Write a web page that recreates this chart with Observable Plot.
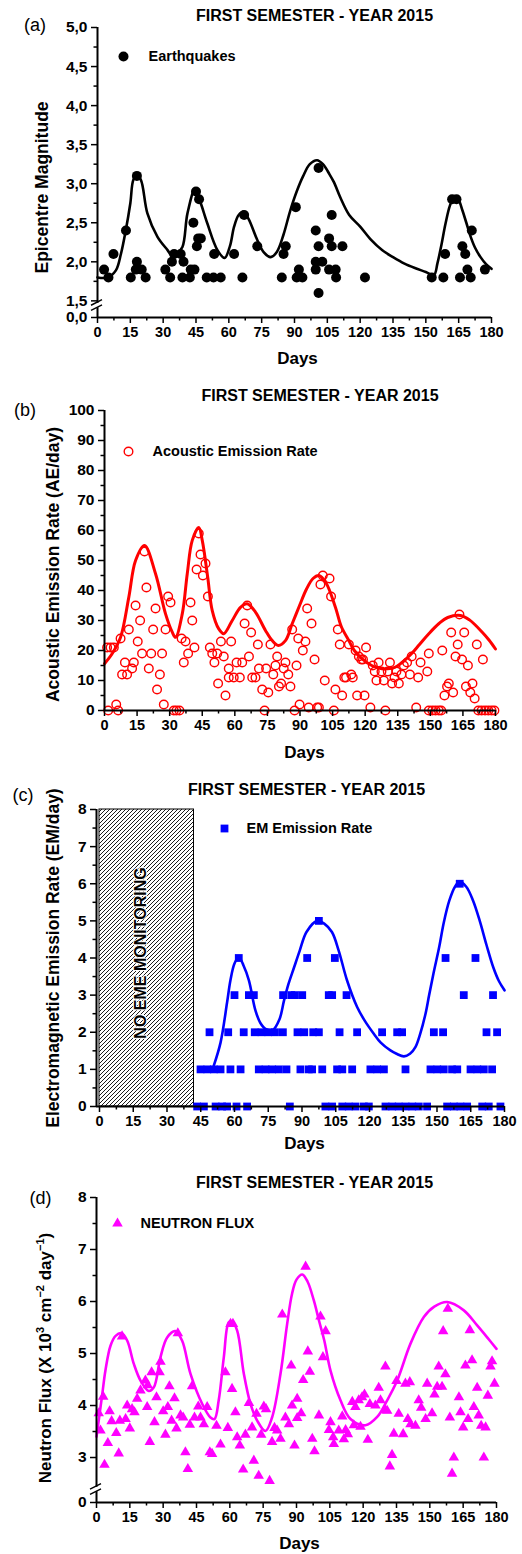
<!DOCTYPE html>
<html>
<head>
<meta charset="utf-8">
<script src="https://cdn.jsdelivr.net/npm/d3@7"></script>
<script src="https://cdn.jsdelivr.net/npm/@observablehq/plot@0.6"></script>
<style>
  body { margin: 0; background: #fff; }
  #chart { position: relative; width: 522px; height: 1554px; overflow: hidden; }
  #chart svg { position: absolute; left: 0; overflow: visible; }
</style>
</head>
<body>
<div id="chart"></div>
<script>
// ---------- shared ----------
const TITLE = "FIRST SEMESTER - YEAR 2015";
const dayTicks = [0, 15, 30, 45, 60, 75, 90, 105, 120, 135, 150, 165, 180];
const dayMinorTicks = [7.5, 22.5, 37.5, 52.5, 67.5, 82.5, 97.5, 112.5, 127.5, 142.5, 157.5, 172.5];

// ---------- (a) earthquakes ----------
const quakeDay = [3, 5, 7.3, 13, 15.2, 17.5, 18, 18, 20.2, 22, 31, 33.2, 34, 35, 38, 38.8, 39.3, 42.2, 42.6, 43.8,
  44.3, 45, 45.4, 46, 46.4, 47.2, 49.9, 53, 53.3, 56.3, 62.4, 66.2, 67, 73, 84.2, 85, 86, 90.6, 91, 92,
  93.6, 99.7, 99.7, 99.7, 101, 101, 101, 102.7, 105.8, 105.8, 107, 107, 108.8, 109, 111.9, 122.2, 152.7, 158, 158.8, 162,
  164, 165.6, 166.7, 168, 169, 170.5, 171, 177];
const quakeMag = [1.9, 1.8, 2.1, 2.4, 1.8, 1.9, 3.1, 2.0, 1.9, 1.8, 1.9, 1.8, 2.0, 2.1, 2.1, 1.8, 2.0, 1.8, 1.9, 2.5,
  1.9, 2.9, 2.2, 2.3, 2.8, 2.3, 1.8, 1.8, 2.1, 1.8, 2.1, 1.8, 2.6, 2.2, 1.8, 2.1, 2.2, 2.7, 1.8, 1.9,
  1.8, 2.4, 2.0, 1.9, 3.2, 2.2, 1.6, 2.0, 2.3, 1.9, 2.6, 2.2, 1.9, 1.8, 2.2, 1.8, 1.8, 1.8, 2.1, 2.8,
  2.8, 1.8, 2.2, 2.1, 1.9, 1.8, 2.4, 1.9];
const quakeTrendDay = [0, 4.6, 8.4, 10.7, 12.9, 15, 16.4, 18, 19.8, 22.8, 27.4, 32, 34, 36, 38.8, 41.1, 44.7, 47.2, 50.2, 54.8,
  58.1, 60.5, 62.4, 64.5, 66.7, 69, 73, 76, 79.1, 82, 85, 88, 91, 94, 97, 100.3, 103, 106, 108, 111,
  115, 120, 125, 130, 135, 140, 145, 150, 153.7, 155.3, 157, 159, 161, 162.9, 164.8, 166.7, 168.5, 170.5, 172.5, 175,
  177.5, 180];
const quakeTrendMag = [1.8, 1.8, 1.89, 2.1, 2.4, 2.75, 3.05, 3.1, 3.05, 2.62, 2.32, 2.15, 2.08, 2.1, 2.19, 2.62, 2.94, 2.75, 2.49, 2.15,
  2.05, 2.2, 2.45, 2.6, 2.64, 2.55, 2.28, 2.12, 2.06, 2.13, 2.35, 2.65, 2.9, 3.1, 3.25, 3.3, 3.25, 3.12, 3.02, 2.82,
  2.6, 2.45, 2.28, 2.15, 2.06, 1.98, 1.92, 1.87, 1.83, 1.98, 2.2, 2.49, 2.72, 2.83, 2.8, 2.66, 2.5, 2.32, 2.18, 2.06,
  1.97, 1.91];
// the magnitude axis is interrupted: its foot (labelled 0,0) sits just below 1,5
const magAxisFloor = 1.287;
const magTicks = [magAxisFloor, 1.5, 2, 2.5, 3, 3.5, 4, 4.5, 5];
const magMinorTicks = [1.75, 2.25, 2.75, 3.25, 3.75, 4.25, 4.75];
const magBreak = 1.44;

// ---------- (b) acoustic emission ----------
const aeDay = [1.2, 1.7, 2.8, 4.3, 5.4, 6.3, 7.4, 8.1, 9.4, 10.4, 11.2, 12.7, 13.5, 14.3, 15.3, 16.4, 17.3, 18.4, 19.3, 20.4,
  21.5, 22.4, 23.5, 24.2, 25.5, 26.5, 27.3, 28.1, 29.3, 30.4, 31.9, 33.1, 34.5, 35.5, 36.5, 37.3, 38.5, 39.6, 40.4, 41.4,
  42.4, 43.4, 44.2, 45.3, 46.5, 47.6, 48.5, 49.6, 50.6, 51.9, 52.3, 53.6, 54.9, 55.7, 57.2, 57.2, 58.3, 59.5, 60.8, 62.3,
  63.4, 64.5, 65.7, 66.5, 67.5, 68, 69.5, 70.6, 71.1, 72.6, 73.7, 74.4, 75.4, 76.4, 77.7, 78.7, 79.5, 80.3, 81.3, 82.5,
  83.3, 84.6, 85.6, 86.4, 87.5, 88.4, 89.2, 89.8, 91.3, 92.5, 93.3, 94, 95.3, 96.7, 97.9, 98.7, 99.4, 100.5, 101.4, 103.6,
  104.3, 105.6, 106.3, 107.4, 108.3, 109.4, 110.4, 111.2, 112.5, 113.6, 114.3, 115.6, 116.3, 117.1, 118.2, 119, 119.7, 120.4, 122.4, 123.5,
  124.4, 125.2, 126.2, 127.5, 128.6, 129.3, 130.4, 131.4, 132.4, 133.5, 134.4, 135.5, 136.7, 137.8, 139.3, 140.6, 141.4, 143.5, 144.4, 145.5,
  148.6, 149.3, 149.3, 150.9, 152.4, 153.9, 155, 155.5, 156.5, 157.7, 158.5, 159.6, 160.5, 161.6, 162.6, 163.4, 164.6, 165.6, 166.4, 167.3,
  168.4, 169.4, 170.4, 171.4, 172.1, 173.6, 174.2, 175.2, 176.7, 178.2, 179.5];
const aeRate = [21, 0, 21, 21, 2, 0, 24, 12, 16, 12, 27, 14, 16, 35, 23, 30, 19, 53, 41, 14,
  19, 27, 34, 7, 12, 19, 2, 27, 38, 36, 0, 0, 0, 24, 16, 23, 19, 36, 30, 21,
  47, 59, 52, 45, 49, 38, 21, 19, 16, 19, 9, 23, 18, 5, 14, 11, 23, 11, 16, 11,
  16, 29, 35, 18, 26, 11, 11, 22, 14, 7, 0, 14, 6, 22, 12, 15, 18, 8, 9, 14,
  16, 12, 8, 27, 0, 15, 24, 2, 20, 23, 34, 1, 29, 17, 1, 1, 42, 45, 10, 44,
  38, 0, 7, 27, 22, 5, 11, 11, 22, 12, 11, 20, 5, 18, 17, 17, 5, 21, 1, 15,
  13, 10, 16, 13, 10, 0, 13, 16, 9, 11, 13, 9, 12, 15, 16, 12, 18, 1, 11, 16,
  13, 19, 0, 0, 0, 0, 0, 20, 5, 8, 9, 26, 6, 18, 22, 32, 17, 26, 8, 15,
  6, 9, 4, 22, 0, 0, 17, 0, 0, 0, 0];
const aeTrendDay = [0, 3.5, 7.4, 11.2, 14.3, 18.4, 23.5, 28.1, 31.2, 32.7, 35.8, 38.1, 40.4, 43.4, 45, 47.5, 49.6, 52.6, 54.9, 58.8,
  62.6, 65.7, 69.5, 74.1, 77.2, 80, 83.3, 86.4, 89.8, 93, 96, 98.7, 102, 106.3, 109, 112.5, 115, 118.6, 123, 127.6,
  133.6, 137, 141.3, 145, 149.3, 154, 158, 163.9, 168, 173.9, 177, 180];
const aeTrendRate = [15.6, 18.9, 24.4, 37.8, 50, 55, 45.6, 32.2, 26.1, 24.4, 32.2, 45.6, 56.7, 61, 56.7, 44.5, 33.3, 27.2, 25.6, 30,
  34.4, 35.6, 32.8, 26.7, 23.3, 21.7, 23.3, 28.9, 35, 40.5, 44, 45, 42.5, 34.4, 28, 23.3, 20, 17.2, 15, 13.9,
  14.4, 16, 18.9, 22, 25.6, 29, 31, 31.7, 30.2, 26.1, 23.5, 20.5];
const aeTicks = [0, 10, 20, 30, 40, 50, 60, 70, 80, 90, 100];
const aeMinorTicks = [5, 15, 25, 35, 45, 55, 65, 75, 85, 95];

// ---------- (c) electromagnetic emission ----------
const emDay = [160.1,
  97.5,
  61.9, 92.3, 104.6, 153.8, 167.1,
  60, 66.4, 68.6, 81.6, 85.2, 86.8, 90.1, 101.9, 103.4, 109.8, 161.9, 174.9,
  48.9, 57.2, 64.1, 69, 72, 75, 78, 81.5, 88, 91, 95, 97.5, 106.7, 114.5, 125.6, 132.3, 134.5, 148.6, 152.7, 172, 176.7,
  44.9, 47.9, 50.8, 53.8, 58.2, 62.7, 70.8, 73.8, 76.7, 79.7, 83.1, 89.3, 93, 94.5, 99, 105.6, 107.9, 112.3, 120.4, 123.4,
  126.4, 136, 147.1, 150.1, 153, 156.7, 159, 164.9, 167.9, 170.8, 174.5,
  43.4, 46.4, 51.6, 54.5, 56.7, 60.9, 65.6, 84.6, 100.4, 103.4, 107.9, 110.8, 113.8, 117.5, 119.7, 127.1, 130.1, 133, 136, 139,
  141.9, 145.6, 154.5, 157.5, 160.4, 163.4, 170.1, 173, 178.2];
const emRate = [6,
  5,
  4, 4, 4, 4, 4,
  3, 3, 3, 3, 3, 3, 3, 3, 3, 3, 3, 3,
  2, 2, 2, 2, 2, 2, 2, 2, 2, 2, 2, 2, 2, 2, 2, 2, 2, 2, 2, 2, 2,
  1, 1, 1, 1, 1, 1, 1, 1, 1, 1, 1, 1, 1, 1, 1, 1, 1, 1, 1, 1,
  1, 1, 1, 1, 1, 1, 1, 1, 1, 1, 1,
  0, 0, 0, 0, 0, 0, 0, 0, 0, 0, 0, 0, 0, 0, 0, 0, 0, 0, 0, 0,
  0, 0, 0, 0, 0, 0, 0, 0, 0];
const emTrendDay = [50.8, 53.8, 56.7, 58.2, 60, 61.9, 64, 66.4, 69.3, 71.5, 74, 77, 80, 82, 84, 86.5, 89, 92, 96.7, 100,
  103.3, 106.3, 110, 114.5, 118, 121.9, 125, 129.3, 132, 135.3, 138, 140.4, 142.5, 144.9, 146.5, 148.5, 151, 153, 155.5, 158,
  160.1, 163, 166, 169, 172, 175, 177.5, 180];
const emTrendRate = [1.1, 1.72, 2.8, 3.4, 3.85, 4.02, 3.8, 3.4, 2.59, 2.25, 2.08, 2.06, 2.35, 2.85, 3.3, 3.75, 4.2, 4.7, 5.0, 4.92,
  4.7, 4.2, 3.4, 2.68, 2.3, 1.96, 1.72, 1.51, 1.42, 1.35, 1.42, 1.6, 1.95, 2.5, 3.0, 3.6, 4.3, 4.95, 5.55, 5.92,
  6.05, 5.92, 5.55, 5.0, 4.35, 3.75, 3.38, 3.13];
const emTicks = [0, 1, 2, 3, 4, 5, 6, 7, 8];
const emMinorTicks = [0.5, 1.5, 2.5, 3.5, 4.5, 5.5, 6.5, 7.5];
const noEmeStart = 0, noEmeEnd = 42;

// ---------- (d) neutron flux ----------
const nfDay = [1, 1.8, 3, 3.6, 5.1, 5.9, 6.8, 8.9, 10, 10.5, 11.5, 13.1, 13.8, 15, 16, 17.1, 18.3, 19.8, 22, 23.1,
  24.8, 28.4, 28.8, 36.6, 22.8, 24, 26.1, 27, 30, 31, 32.1, 32.8, 33.8, 35.1, 36, 37.8, 39, 40, 41.1, 42,
  43, 44.1, 45.8, 46.8, 48.3, 49.8, 51, 52, 54, 55.8, 58, 59.1, 60.3, 61.4, 61, 62.5, 63.3, 64.5, 66, 67,
  68.6, 70, 70.8, 72, 73, 74.1, 75.3, 76.3, 77.9, 79, 80.1, 81.3, 82.8, 83.6, 85, 86.6, 87.6, 88, 89.1, 90.3,
  90.3, 94.1, 100.8, 103.1, 101.9, 95.1, 96, 93, 92.1, 97.1, 98.1, 100.1, 105.3, 104.6, 106.8, 106.5, 109, 111.3, 112.1, 113.1,
  110.6, 115.1, 116.5, 118, 119.5, 120.6, 115.8, 118.8, 122.1, 123, 125.5, 127, 127.8, 130, 130, 130.8, 133.8, 133, 132, 135,
  136, 138, 139, 141, 140.1, 141.3, 143.5, 145, 146.1, 148.1, 148.8, 151, 152.1, 153.3, 154, 155.5, 157, 156, 158.1, 159,
  160.8, 160, 163.1, 163.8, 165, 166, 167.2, 168, 169, 169.8, 171.3, 172, 173.1, 174.3, 175.1, 176.1, 177.3, 178, 179.1];
const nfFlux = [3.85, 3.52, 4.17, 2.86, 3.28, 3.89, 3.7, 3.47, 3.08, 3.71, 5.33, 3.74, 4.0, 3.56, 3.93, 3.87, 4.13, 4.29, 4.48, 4.39,
  4.64, 4.64, 4.84, 5.39, 3.97, 3.3, 3.68, 4.16, 3.89, 3.44, 3.97, 4.37, 3.71, 4.14, 3.56, 3.81, 3.77, 3.1, 2.78, 3.63,
  4.37, 3.77, 3.98, 3.77, 3.64, 3.97, 3.1, 3.07, 3.61, 3.25, 4.64, 3.57, 5.57, 5.57, 4.32, 3.87, 3.39, 3.23, 2.77, 3.44,
  4.05, 3.58, 2.94, 3.84, 2.65, 3.44, 3.98, 3.93, 2.55, 3.3, 3.57, 3.52, 3.36, 5.75, 3.77, 3.64, 4.77, 4.0, 3.23, 4.13,
  3.76, 6.67, 5.71, 5.43, 4.93, 5.04, 4.65, 4.49, 3.85, 3.36, 3.12, 3.81, 3.68, 3.53, 3.26, 3.39, 3.52, 3.35, 3.53, 3.45,
  3.79, 4.07, 3.97, 4.1, 4.16, 4.21, 3.62, 3.59, 3.34, 4.03, 4.0, 4.34, 4.1, 4.75, 3.91, 3.9, 3.46, 3.05, 2.83, 4.47,
  3.84, 3.45, 4.42, 4.45, 3.74, 3.64, 3.61, 4.1, 3.96, 3.74, 4.42, 3.85, 4.21, 4.36, 4.75, 4.36, 4.6, 5.43, 5.86, 3.77,
  3.0, 2.69, 4.16, 3.87, 3.58, 4.77, 3.74, 5.45, 4.87, 3.97, 4.34, 3.81, 3.61, 3.0, 3.58, 4.19, 4.75, 4.85, 4.42];
const nfTrendDay = [0, 2.6, 4, 6.3, 8.6, 11.3, 13.8, 16.8, 19.8, 23.5, 25.8, 28.8, 31.8, 35.5, 38.5, 42.3, 47.6, 51.3, 53.1, 55,
  57.3, 59.5, 61, 63.3, 66.3, 69.3, 72.3, 76, 79, 82.8, 85.8, 88, 90, 92.6, 95, 97.8, 100.2, 102.5, 105.3, 109.8,
  114.3, 121, 126.3, 130.8, 135.3, 141.3, 147.3, 152, 157.8, 165.3, 171.3, 176, 180];
const nfTrendFlux = [3.4, 4.22, 4.67, 5.15, 5.34, 5.39, 5.25, 4.8, 4.48, 4.28, 4.35, 4.93, 5.31, 5.43, 5.25, 4.61, 4.03, 3.77, 3.74, 4.1,
  4.93, 5.6, 5.62, 5.44, 4.61, 4.03, 3.71, 3.51, 3.77, 4.61, 5.57, 6.15, 6.42, 6.52, 6.38, 6.02, 5.62, 5.25, 4.67, 4.1,
  3.74, 3.62, 3.78, 4.1, 4.48, 5.19, 5.7, 5.9, 5.99, 5.83, 5.54, 5.3, 5.09];
// the flux axis is interrupted: its foot (labelled 0) sits below 3
const nfAxisFloor = 2.135;
const nfTicks = [nfAxisFloor, 3, 4, 5, 6, 7, 8];
const nfMinorTicks = [3.5, 4.5, 5.5, 6.5, 7.5];
const nfBreak = 2.385;

// ---------- helpers ----------
const FONT = "'Liberation Sans', Arial, Helvetica, sans-serif";
const chart = document.getElementById("chart");

function addPanel(top, height, options) {
  const svg = Plot.plot({
    width: 522,
    height,
    ...options,
    style: {fontFamily: FONT, color: "#000", background: "transparent", overflow: "visible"}
  });
  svg.style.top = top + "px";
  chart.appendChild(svg);
}

function dayAxis() {
  return [
    Plot.axisX({ticks: dayTicks, anchor: "bottom", tickSize: 6, tickPadding: 3, strokeWidth: 1.5,
      fontSize: 14.5, fontWeight: "bold", label: null, tickFormat: d => String(d)}),
    Plot.axisX({ticks: dayMinorTicks, anchor: "bottom", tickSize: 3.5, strokeWidth: 1.5,
      label: null, tickFormat: () => ""})
  ];
}

function valueAxis(ticks, minor, format = d => String(d)) {
  return [
    Plot.axisY({ticks, anchor: "left", tickSize: 6, tickPadding: 4, strokeWidth: 1.5,
      fontSize: 15.5, fontWeight: "bold", label: null, tickFormat: format}),
    Plot.axisY({ticks: minor, anchor: "left", tickSize: 3.5, strokeWidth: 1.5,
      label: null, tickFormat: () => ""})
  ];
}

function axisLines(x0, y0) {
  return [Plot.ruleY([y0], {strokeWidth: 2}), Plot.ruleX([x0], {strokeWidth: 2})];
}

function heading(dx, dy) {
  return Plot.text([TITLE], {frameAnchor: "top-left", dx, dy, fontSize: 16, fontWeight: "bold",
    textAnchor: "middle", lineAnchor: "middle"});
}

function panelTag(tag, dx, dy) {
  return Plot.text([tag], {frameAnchor: "top-left", dx, dy, fontSize: 18,
    textAnchor: "middle", lineAnchor: "middle"});
}

function daysLabel(dx, dy) {
  return Plot.text(["Days"], {frameAnchor: "bottom", dx, dy, fontSize: 17, fontWeight: "bold",
    textAnchor: "middle", lineAnchor: "middle"});
}

function valueLabel(text, dx, dy) {
  return Plot.text([text], {frameAnchor: "left", dx, dy, rotate: -90, fontSize: 17.5, fontWeight: "bold",
    textAnchor: "middle", lineAnchor: "middle"});
}

function legendText(text, dx, dy) {
  return Plot.text([text], {frameAnchor: "top-left", dx, dy, fontSize: 14.5, fontWeight: "bold",
    textAnchor: "start", lineAnchor: "middle"});
}

// two slanted strokes that mark the interrupted value axis
function axisBreak(value) {
  return (index, scales, values, dims) => {
    const x0 = dims.marginLeft, y0 = scales.y(value);
    const g = d3.create("svg:g");
    g.append("rect").attr("x", x0 - 3).attr("y", y0 - 2.2).attr("width", 6).attr("height", 4.4).attr("fill", "#fff");
    for (const off of [-2.6, 2.6]) {
      g.append("line")
        .attr("x1", x0 - 6).attr("y1", y0 + off + 2.8)
        .attr("x2", x0 + 5).attr("y2", y0 + off - 2.8)
        .attr("stroke", "#000").attr("stroke-width", 1.5);
    }
    return g.node();
  };
}

// ---------- (a) ----------
addPanel(0, 385, {
  marginLeft: 97, marginRight: 31, marginTop: 27, marginBottom: 68,
  x: {domain: [0, 180], axis: null},
  y: {domain: [magAxisFloor, 5], axis: null},
  marks: [
    Plot.line(quakeTrendDay, {x: quakeTrendDay, y: quakeTrendMag, curve: "catmull-rom", stroke: "#000", strokeWidth: 2.6}),
    Plot.dot(quakeDay, {x: quakeDay, y: quakeMag, r: 5, fill: "#000", stroke: "none"}),
    ...axisLines(0, magAxisFloor),
    ...dayAxis(),
    ...valueAxis(magTicks, magMinorTicks, d => d === magAxisFloor ? "0,0" : d.toFixed(1).replace(".", ",")),
    axisBreak(magBreak),
    heading(217, -12),
    panelTag("(a)", -62.5, -2),
    Plot.dot([0], {frameAnchor: "top-left", dx: 26, dy: 29, r: 5, fill: "#000"}),
    legendText("Earthquakes", 51, 29),
    valueLabel("Epicentre Magnitude", -55, 15),
    daysLabel(3, 41)
  ]
});

// ---------- (b) ----------
addPanel(385, 390, {
  marginLeft: 104, marginRight: 27, marginTop: 25, marginBottom: 65,
  x: {domain: [0, 180], axis: null},
  y: {domain: [0, 100], axis: null},
  marks: [
    Plot.line(aeTrendDay, {x: aeTrendDay, y: aeTrendRate, curve: "catmull-rom", stroke: "#ff0000", strokeWidth: 3}),
    Plot.dot(aeDay, {x: aeDay, y: aeRate, r: 4.3, fill: "none", stroke: "#ff0000", strokeWidth: 1.4}),
    ...axisLines(0, 0),
    ...dayAxis(),
    ...valueAxis(aeTicks, aeMinorTicks),
    heading(215.5, -15),
    panelTag("(b)", -79.5, 0),
    Plot.dot([0], {frameAnchor: "top-left", dx: 24, dy: 41, r: 4.3, fill: "none", stroke: "#ff0000", strokeWidth: 1.4}),
    legendText("Acoustic Emission Rate", 48, 41),
    valueLabel("Acoustic Emission Rate (AE/day)", -51, 4),
    daysLabel(4.5, 42)
  ]
});

// ---------- (c) ----------
const hatchDefs = () => {
  const g = d3.create("svg:g");
  const p = g.append("defs").append("pattern")
    .attr("id", "hatch-no-eme").attr("patternUnits", "userSpaceOnUse")
    .attr("width", 4).attr("height", 4);
  p.append("rect").attr("width", 4).attr("height", 4).attr("fill", "#fff");
  p.append("path").attr("d", "M-1,1 l2,-2 M0,4 l4,-4 M3,5 l2,-2")
    .attr("stroke", "#000").attr("stroke-width", 0.9);
  return g.node();
};

addPanel(775, 390, {
  marginLeft: 96, marginRight: 18, marginTop: 34, marginBottom: 59,
  x: {domain: [-1.33, 180], axis: null},
  y: {domain: [0, 8], axis: null},
  marks: [
    hatchDefs,
    Plot.rect([0], {x1: noEmeStart, x2: noEmeEnd, y1: 0, y2: 8, fill: "url(#hatch-no-eme)", stroke: "#000", strokeWidth: 1}),
    Plot.text(["NO EME MONITORING"], {x: (noEmeStart + noEmeEnd) / 2, y: 4, dx: -6, dy: -5, rotate: -90,
      fontSize: 16, fontWeight: "bold", fill: "#000", stroke: "#fff", strokeWidth: 2, textAnchor: "middle"}),
    Plot.line(emTrendDay, {x: emTrendDay, y: emTrendRate, curve: "catmull-rom", stroke: "#0000ff", strokeWidth: 2.6}),
    Plot.dot(emDay, {x: emDay, y: emRate, symbol: "square", r: 4.4, fill: "#0000ff", stroke: "none"}),
    ...axisLines(-1.33, 0),
    ...dayAxis(),
    ...valueAxis(emTicks, emMinorTicks),
    heading(210, -20),
    panelTag("(c)", -73.5, -14),
    Plot.dot([0], {frameAnchor: "top-left", dx: 128, dy: 19, symbol: "square", r: 4.4, fill: "#0000ff"}),
    legendText("EM Emission Rate", 150, 19),
    valueLabel("Electromagnetic Emission Rate (EM/day)", -43, 0),
    daysLabel(4, 37)
  ]
});

// ---------- (d) ----------
const neutronLabel = (index, scales, values, dims) => {
  const cx = dims.marginLeft - 49;
  const cy = (dims.marginTop + dims.height - dims.marginBottom) / 2 + 8.5;
  const t = d3.create("svg:text")
    .attr("transform", `translate(${cx},${cy}) rotate(-90)`)
    .attr("text-anchor", "middle").attr("dominant-baseline", "middle")
    .attr("font-size", 17).attr("font-weight", "bold").attr("fill", "#000");
  const parts = [["Neutron Flux (X 10", false], ["3", true], [" cm", false], ["\u22122", true],
    [" day", false], ["\u22121", true], [")", false]];
  for (const [s, sup] of parts) {
    const ts = t.append("tspan").text(s);
    if (sup) ts.attr("baseline-shift", "super").attr("font-size", 11);
  }
  return t.node();
};

addPanel(1165, 389, {
  marginLeft: 96, marginRight: 26, marginTop: 32, marginBottom: 52,
  x: {domain: [0, 180], axis: null},
  y: {domain: [nfAxisFloor, 8], axis: null},
  marks: [
    Plot.line(nfTrendDay, {x: nfTrendDay, y: nfTrendFlux, curve: "catmull-rom", stroke: "#ff00ff", strokeWidth: 2.6}),
    Plot.dot(nfDay, {x: nfDay, y: nfFlux, symbol: "triangle", r: 3.9, fill: "#ff00ff", stroke: "none"}),
    ...axisLines(0, nfAxisFloor),
    ...dayAxis(),
    ...valueAxis(nfTicks, nfMinorTicks, d => d === nfAxisFloor ? "0" : String(d)),
    axisBreak(nfBreak),
    heading(218, -15),
    panelTag("(d)", -56, 1),
    Plot.dot([0], {frameAnchor: "top-left", dx: 21, dy: 26, symbol: "triangle", r: 3.9, fill: "#ff00ff"}),
    legendText("NEUTRON FLUX", 44, 26),
    neutronLabel,
    daysLabel(3, 41)
  ]
});
</script>
</body>
</html>
